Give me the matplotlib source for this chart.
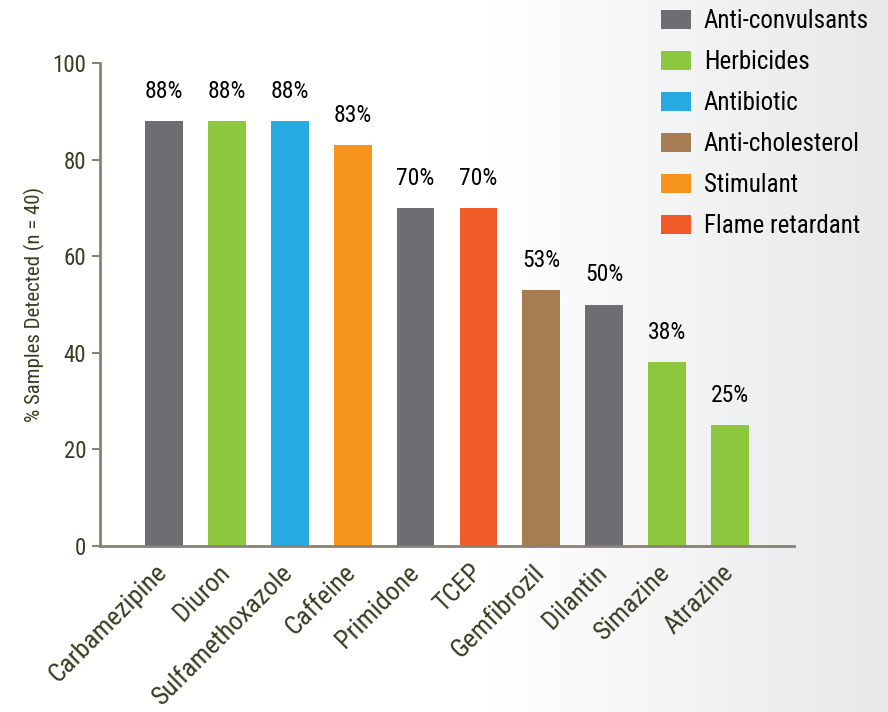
import numpy as np
import matplotlib.pyplot as plt
import matplotlib.transforms as mtransforms
from matplotlib.patches import Patch

plt.rcParams['font.family'] = ['Roboto Condensed', 'PT Sans Narrow', 'DejaVu Sans']

compounds = ['Carbamezipine', 'Diuron', 'Sulfamethoxazole', 'Caffeine', 'Primidone',
             'TCEP', 'Gemfibrozil', 'Dilantin', 'Simazine', 'Atrazine']
percent = [88, 88, 88, 83, 70, 70, 53, 50, 38, 25]
classes = ['Anti-convulsants', 'Herbicides', 'Antibiotic', 'Stimulant', 'Anti-convulsants',
           'Flame retardant', 'Anti-cholesterol', 'Anti-convulsants', 'Herbicides', 'Herbicides']

class_order = ['Anti-convulsants', 'Herbicides', 'Antibiotic',
               'Anti-cholesterol', 'Stimulant', 'Flame retardant']
class_colors = {
    'Anti-convulsants': '#6d6e71',
    'Herbicides': '#8dc63f',
    'Antibiotic': '#27aae1',
    'Anti-cholesterol': '#a67c52',
    'Stimulant': '#f7941d',
    'Flame retardant': '#f15a29',
}

axis_col = '#8b8173'
text_col = '#3b3b22'

fig = plt.figure(figsize=(8.88, 7.12), dpi=100)

# soft white-to-grey background towards the right edge
bg = fig.add_axes([0, 0, 1, 1], zorder=-10)
xs = np.linspace(0, 1, 400)
shade = np.clip((xs - 0.55) / 0.45, 0, 1)
top = np.array([1.0, 1.0, 1.0])
edge = np.array([231, 232, 234]) / 255
grad = top[None, :] * (1 - shade[:, None]) + edge[None, :] * shade[:, None]
bg.imshow(grad[None, :, :], aspect='auto', extent=[0, 1, 0, 1])
bg.axis('off')

ax = fig.add_axes([100 / 888, 1 - 546 / 712, 694 / 888, 483 / 712])
ax.patch.set_alpha(0)

x = np.arange(len(compounds))
colors = [class_colors[c] for c in classes]
ax.bar(x, percent, width=0.6, color=colors)

for xi, v in zip(x, percent):
    ax.text(xi, v + 3.8, f'{v}%', ha='center', va='bottom', fontsize=17, color='black')

ax.set_xlim(-1.02, 10.02)
ax.set_ylim(0, 100)
ax.set_yticks([0, 20, 40, 60, 80, 100])
ax.set_xticks(x)
ax.set_xticklabels(compounds, rotation=45, ha='right', rotation_mode='anchor',
                   fontsize=19, color=text_col)
ax.tick_params(axis='x', length=0, pad=13)
ax.tick_params(axis='y', length=6, width=1.5, color=axis_col, labelsize=16.5,
               labelcolor=text_col, pad=4)

# nudge the slanted names left so each ends under its bar
shift = mtransforms.ScaledTranslation(-9 / 100, 4 / 100, fig.dpi_scale_trans)
for lab in ax.get_xticklabels():
    lab.set_transform(lab.get_transform() + shift)

for side in ['top', 'right']:
    ax.spines[side].set_visible(False)
for side in ['left', 'bottom']:
    ax.spines[side].set_color(axis_col)
    ax.spines[side].set_linewidth(2)

ax.set_ylabel('% Samples Detected (n = 40)', fontsize=15, color=text_col, labelpad=5)

handles = [Patch(facecolor=class_colors[c], label=c) for c in class_order]
fig.legend(handles=handles, loc='upper left', bbox_to_anchor=(661 / 888, 1 - 9 / 712),
           frameon=False, fontsize=18, handlelength=1.2, handleheight=0.8,
           handletextpad=0.52, labelspacing=0.68, borderpad=0, borderaxespad=0)

fig.savefig('out.png', dpi=100)
